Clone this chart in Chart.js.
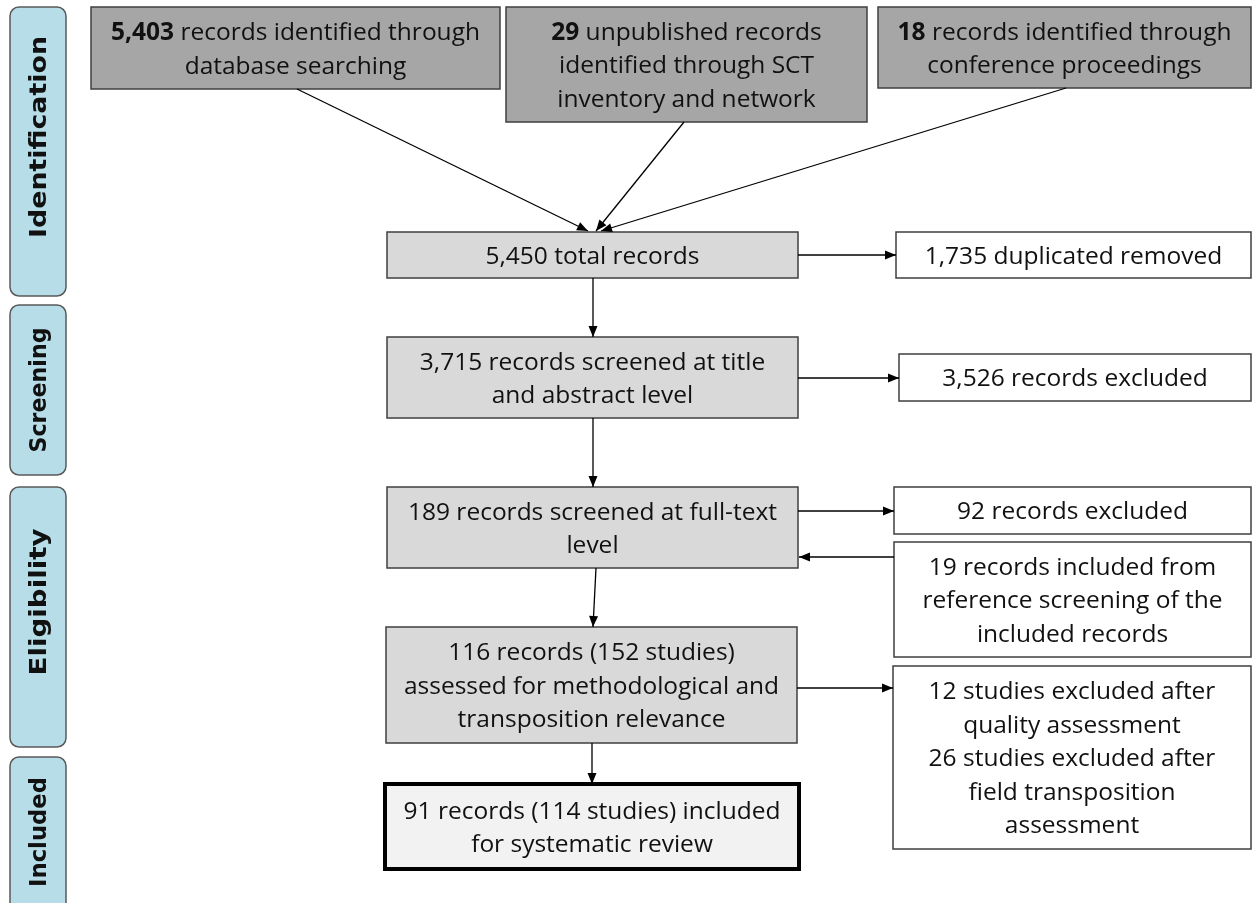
<!DOCTYPE html>
<html>
<head>
<meta charset="utf-8">
<script src="https://cdn.jsdelivr.net/npm/chart.js@4/dist/chart.umd.min.js"></script>
<style>
  html, body { margin: 0; padding: 0; background: #fff; overflow: hidden; }
  canvas { display: block; }
</style>
</head>
<body>
<canvas id="flow" width="1253" height="903"></canvas>
<script>
// --- data ---
const stageLabels = ["Identification", "Screening", "Eligibility", "Included"]
const sourceCounts = ["5,403", "29", "18"]
const sourceTexts = [
  [" records identified through", "database searching"],
  [" unpublished records", "identified through SCT", "inventory and network"],
  [" records identified through", "conference proceedings"]
]
const flowTexts = [
  ["5,450 total records"],
  ["3,715 records screened at title", "and abstract level"],
  ["189 records screened at full-text", "level"],
  ["116 records (152 studies)", "assessed for methodological and", "transposition relevance"],
  ["91 records (114 studies) included", "for systematic review"]
]
const sideTexts = [
  ["1,735 duplicated removed"],
  ["3,526 records excluded"],
  ["92 records excluded"],
  ["19 records included from", "reference screening of the", "included records"],
  ["12 studies excluded after", "quality assessment", "26 studies excluded after", "field transposition", "assessment"]
]

// --- layout, in axis units (left, top, right, bottom) ---
const stageFrames = [[10, 7, 66, 296], [10, 305, 66, 475], [10, 487, 66, 747], [10, 757, 66, 918]]
const stageTextMid = [137, 390, 602, 832]
const stageTextLen = [202, 125, 147, 110]
const sourceFrames = [[91, 7, 500, 89], [506, 7, 867, 122], [878, 7, 1251, 88]]
const flowFrames = [[387, 232, 798, 278], [387, 337, 798, 418], [387, 487, 798, 568], [386, 627, 797, 743], [385, 784, 799, 869]]
const sideFrames = [[896, 232, 1251, 278], [899, 354, 1251, 401], [894, 487, 1251, 534], [894, 542, 1251, 657], [893, 666, 1251, 849]]
const arrowPaths = [
  [[297, 89], [588, 231]],
  [[684, 122], [596, 231]],
  [[1066, 88], [601, 231]],
  [[593, 278], [593, 337]],
  [[798, 255], [896, 255]],
  [[593, 418], [593, 487]],
  [[798, 378], [899, 378]],
  [[798, 511], [894, 511]],
  [[894, 557], [799, 557]],
  [[596, 568], [593, 627]],
  [[797, 688], [893, 688]],
  [[592, 743], [592, 784]]
]

const FONT = '"Open Sans", "Liberation Sans", sans-serif'
const STAGE_FONT = 'bold 23px "DejaVu Sans", "Open Sans", sans-serif'
const TEXT_SIZE = 24.5
const LINE_H = 33.5

function px(chart, p) {
  return [chart.scales.x.getPixelForValue(p[0]), chart.scales.y.getPixelForValue(p[1])]
}

function frameRect(chart, f) {
  const [x1, y1] = px(chart, [f[0], f[1]])
  const [x2, y2] = px(chart, [f[2], f[3]])
  return { x: x1, y: y1, w: x2 - x1, h: y2 - y1 }
}

function drawLines(ctx, lines, cx, cy, size, maxW) {
  const capH = size * 0.72
  ctx.fillStyle = '#111'
  ctx.textAlign = 'left'
  ctx.textBaseline = 'alphabetic'
  lines.forEach((line, i) => {
    const runs = typeof line === 'string' ? [{ t: line }] : line
    const base = cy + (i - (lines.length - 1) / 2) * LINE_H + capH / 2
    let total = 0
    runs.forEach(r => {
      ctx.font = (r.bold ? 'bold ' : '') + size + 'px ' + FONT
      r.w = ctx.measureText(r.t).width
      total += r.w
    })
    const s = Math.min(1, maxW / total)
    ctx.save()
    ctx.translate(cx, base)
    ctx.scale(s, 1)
    let xx = -total / 2
    runs.forEach(r => {
      ctx.font = (r.bold ? 'bold ' : '') + size + 'px ' + FONT
      ctx.fillText(r.t, xx, 0)
      xx += r.w
    })
    ctx.restore()
  })
}

function box(ctx, r, fill, stroke, lw) {
  ctx.fillStyle = fill
  ctx.fillRect(r.x, r.y, r.w, r.h)
  ctx.strokeStyle = stroke
  ctx.lineWidth = lw
  ctx.strokeRect(r.x, r.y, r.w, r.h)
}

const flowPlugin = {
  id: 'flowBoxes',
  beforeDatasetsDraw(chart) {
    const ctx = chart.ctx
    ctx.save()

    // stage labels
    stageFrames.forEach((f, i) => {
      const r = frameRect(chart, f)
      ctx.beginPath()
      ctx.roundRect(r.x, r.y, r.w, r.h, 9)
      ctx.fillStyle = '#b7dee8'
      ctx.fill()
      ctx.strokeStyle = '#595959'
      ctx.lineWidth = 1.5
      ctx.stroke()
      const [cx] = px(chart, [(f[0] + f[2]) / 2, 0])
      const [, cy] = px(chart, [0, stageTextMid[i]])
      ctx.save()
      ctx.translate(cx + 1, cy)
      ctx.rotate(-Math.PI / 2)
      ctx.font = STAGE_FONT
      const w = ctx.measureText(stageLabels[i]).width
      ctx.scale(stageTextLen[i] / w, 1)
      ctx.fillStyle = '#111'
      ctx.textAlign = 'center'
      ctx.textBaseline = 'middle'
      ctx.fillText(stageLabels[i], 0, 1)
      ctx.restore()
    })

    // source boxes
    sourceFrames.forEach((f, i) => {
      const r = frameRect(chart, f)
      box(ctx, r, '#a6a6a6', '#3f3f3f', 1.5)
      const lines = sourceTexts[i].slice()
      lines[0] = [{ t: sourceCounts[i], bold: true }, { t: sourceTexts[i][0] }]
      drawLines(ctx, lines, r.x + r.w / 2, r.y + r.h / 2, TEXT_SIZE, r.w - 14)
    })

    // main flow
    flowFrames.forEach((f, i) => {
      const r = frameRect(chart, f)
      const last = i === flowFrames.length - 1
      box(ctx, r, last ? '#f2f2f2' : '#d9d9d9', last ? '#000' : '#3f3f3f', last ? 4 : 1.5)
      drawLines(ctx, flowTexts[i], r.x + r.w / 2, r.y + r.h / 2, TEXT_SIZE, r.w - 18)
    })

    // side boxes
    sideFrames.forEach((f, i) => {
      const r = frameRect(chart, f)
      box(ctx, r, '#ffffff', '#3f3f3f', 1.5)
      drawLines(ctx, sideTexts[i], r.x + r.w / 2, r.y + r.h / 2, TEXT_SIZE, r.w - 14)
    })
    ctx.restore()
  },
  afterDatasetsDraw(chart) {
    const ctx = chart.ctx
    ctx.save()
    ctx.fillStyle = '#000'
    arrowPaths.forEach(p => {
      const [x1, y1] = px(chart, p[p.length - 2])
      const [x2, y2] = px(chart, p[p.length - 1])
      const a = Math.atan2(y2 - y1, x2 - x1)
      const len = 11, half = 4.5
      ctx.beginPath()
      ctx.moveTo(x2, y2)
      ctx.lineTo(x2 - len * Math.cos(a) + half * Math.sin(a), y2 - len * Math.sin(a) - half * Math.cos(a))
      ctx.lineTo(x2 - len * Math.cos(a) - half * Math.sin(a), y2 - len * Math.sin(a) + half * Math.cos(a))
      ctx.closePath()
      ctx.fill()
    })
    ctx.restore()
  }
}

const chart = new Chart(document.getElementById('flow'), {
  type: 'scatter',
  data: {
    datasets: arrowPaths.map(p => ({
      data: p.map(([x, y]) => ({ x, y })),
      showLine: true,
      borderColor: '#000',
      borderWidth: 1.3,
      pointRadius: 0,
      fill: false,
      clip: false
    }))
  },
  options: {
    responsive: false,
    animation: false,
    events: [],
    layout: { padding: 0 },
    plugins: { legend: { display: false }, tooltip: { enabled: false } },
    scales: {
      x: { type: 'linear', min: 0, max: 1253, display: false },
      y: { type: 'linear', min: 0, max: 903, reverse: true, display: false }
    }
  },
  plugins: [flowPlugin]
})
</script>
</body>
</html>
